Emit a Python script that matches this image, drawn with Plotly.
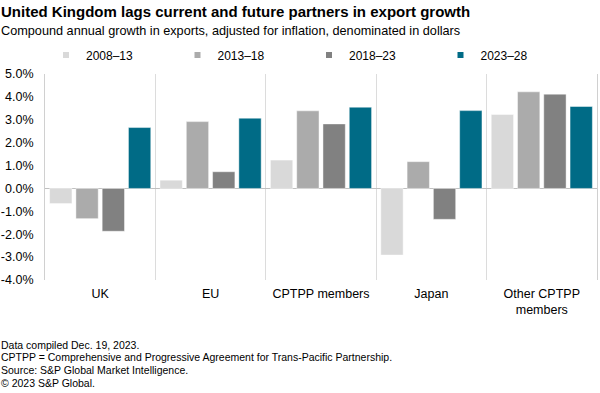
import plotly.graph_objects as go

categories = ["UK", "EU", "CPTPP members", "Japan", "Other CPTPP<br>members"]
periods = ["2008–13", "2013–18", "2018–23", "2023–28"]
v_2008_13 = [-0.66, 0.36, 1.24, -2.91, 3.23]
v_2013_18 = [-1.32, 2.92, 3.39, 1.17, 4.22]
v_2018_23 = [-1.87, 0.73, 2.82, -1.35, 4.12]
v_2023_28 = [2.66, 3.07, 3.55, 3.40, 3.58]
series = [v_2008_13, v_2013_18, v_2018_23, v_2023_28]
colors = ["#d9d9d9", "#ababab", "#818181", "#006b86"]

y_tickvals = [5, 4, 3, 2, 1, 0, -1, -2, -3, -4]
y_ticktext = ["5.0%", "4.0%", "3.0%", "2.0%", "1.0%", "0.0%", "-1.0%", "-2.0%", "-3.0%", "-4.0%"]

footer_lines = [
    "Data compiled Dec. 19, 2023.",
    "CPTPP = Comprehensive and Progressive Agreement for Trans-Pacific Partnership.",
    "Source: S&P Global Market Intelligence.",
    "© 2023 S&P Global.",
]

FONT = "Liberation Sans, Arial, sans-serif"
PW = 552.5  # plot width px
PH = 206    # plot height px

fig = go.Figure()
for name, vals, col in zip(periods, series, colors):
    fig.add_trace(go.Bar(
        x=categories, y=vals, name=name, marker_color=col,
        marker_line=dict(width=1, color="rgba(255,255,255,0.45)"),
        showlegend=False,
    ))
for name, col in zip(periods, colors):
    fig.add_trace(go.Scatter(
        x=[None], y=[None], mode="markers", name=name,
        marker=dict(symbol="square", size=6, color=col),
        showlegend=True,
    ))

fig.update_layout(
    width=600, height=393,
    margin=dict(l=45, r=2.5, t=74, b=113, autoexpand=False),
    paper_bgcolor="white", plot_bgcolor="white",
    font=dict(family=FONT, size=12, color="#000000"),
    barmode="group", bargap=0.048, bargroupgap=0.15,
    legend=dict(
        orientation="h", x=1 / PW, xanchor="left", y=1.0 + (74 - 55) / PH, yanchor="middle",
        entrywidth=86.5, entrywidthmode="pixels",
        font=dict(family=FONT, size=12, color="#000000"),
        bgcolor="rgba(0,0,0,0)",
    ),
)
fig.update_xaxes(
    tickson="boundaries", showgrid=True, gridcolor="#dcdcdc", gridwidth=1,
    ticks="", showline=False, ticklabelstandoff=4,
    tickfont=dict(size=12.5, color="#000000"),
)
fig.update_yaxes(
    range=[-4, 5], tickvals=y_tickvals, ticktext=y_ticktext,
    showgrid=False, zeroline=True, zerolinecolor="#c0c0c0", zerolinewidth=1,
    ticks="", showline=True, linecolor="#d0d0d0", linewidth=1, mirror=True,
    ticklabelstandoff=8,
    tickfont=dict(size=12.5, color="#000000"),
)

fig.add_annotation(
    text="<b>United Kingdom lags current and future partners in export growth</b>",
    xref="paper", yref="paper", x=-46 / PW, y=1.0 + (74 - 11.5) / PH, xanchor="left", yanchor="middle",
    showarrow=False, font=dict(family=FONT, size=15, color="#000000"),
)
fig.add_annotation(
    text="Compound annual growth in exports, adjusted for inflation, denominated in dollars",
    xref="paper", yref="paper", x=-46 / PW, y=1.0 + (74 - 30.5) / PH, xanchor="left", yanchor="middle",
    showarrow=False, font=dict(family=FONT, size=12.7, color="#000000"),
)
footer_y = [345, 357, 369.5, 382.5]
for line, py in zip(footer_lines, footer_y):
    fig.add_annotation(
        text=line, xref="paper", yref="paper", x=-46 / PW, y=-(py - 280) / PH,
        xanchor="left", yanchor="middle", showarrow=False,
        font=dict(family=FONT, size=10.5, color="#000000"),
    )

fig.write_html(
    "out.html",
    config={"displayModeBar": False},
    post_script="document.body.style.margin='0';document.body.style.overflow='hidden';",
)
